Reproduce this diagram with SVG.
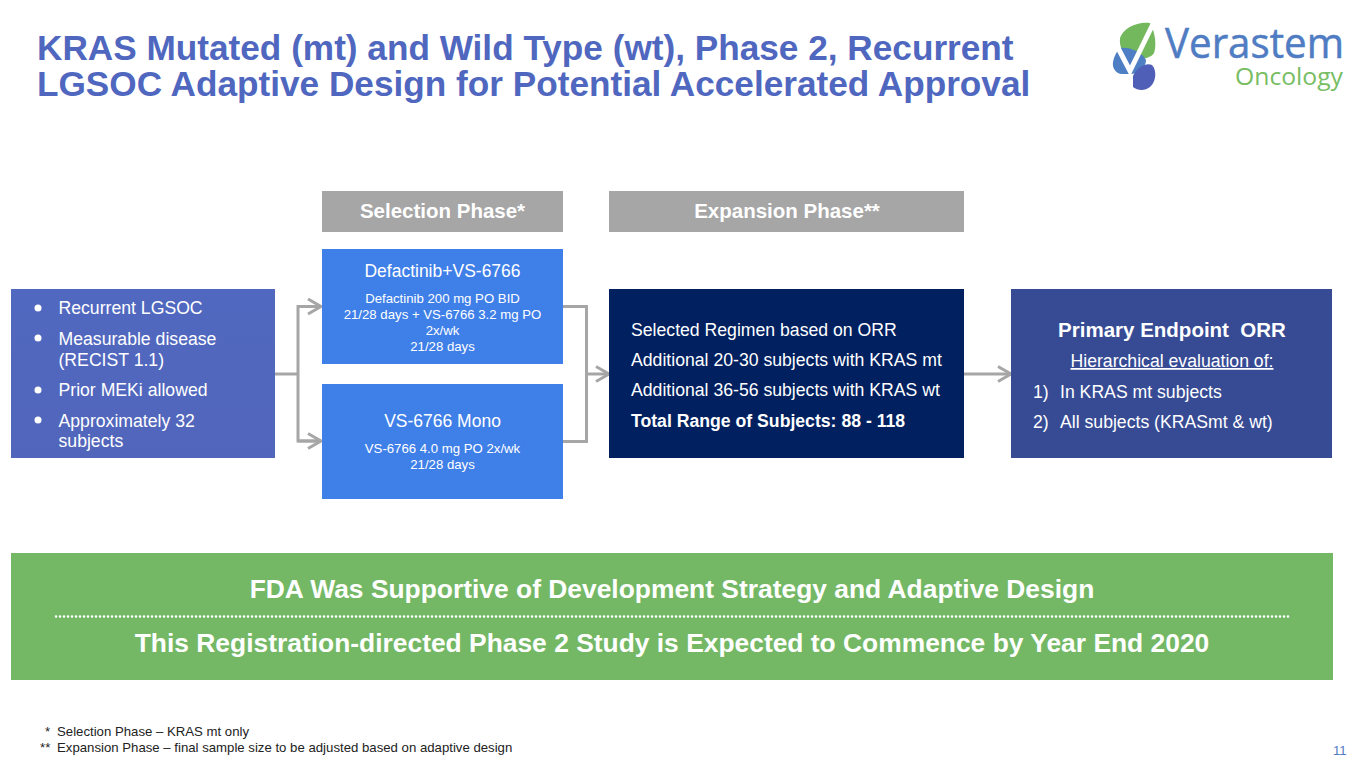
<svg xmlns="http://www.w3.org/2000/svg" width="1366" height="770" viewBox="0 0 1366 770">
<style>
text{font-family:"Liberation Sans",Arial,sans-serif;fill:#fff}
.title{font-size:35.2px;font-weight:700;fill:#4f67bf}
.hd{font-size:20.500px;font-weight:700;text-anchor:middle}
.m{text-anchor:middle}
.b18{font-size:17.650px}
.s13{font-size:13.200px}
.s17{font-size:17.500px}
.ban{font-size:26.400px;font-weight:700;text-anchor:middle}
.fn{font-size:13.200px;fill:#222}
.c{fill:none;stroke:#a6a6a6;stroke-width:3}
</style>
<defs>
<linearGradient id="g1" x1="0" x2="0" y1="0" y2="1"><stop offset="0" stop-color="#5168c0"/><stop offset="1" stop-color="#5166bb"/></linearGradient>
<marker id="a" markerUnits="userSpaceOnUse" markerWidth="18" markerHeight="18" refX="15" refY="9" orient="auto"><path d="M2 1.500L15 9L2 16.500" fill="none" stroke="#a6a6a6" stroke-width="3"/></marker>
</defs>
<rect width="1366" height="770" fill="#fff"/>
<g id="title"><text class="title" x="37" y="60">KRAS Mutated (mt) and Wild Type (wt), Phase 2, Recurrent</text><text class="title" x="37" y="96">LGSOC Adaptive Design for Potential Accelerated Approval</text></g>
<g id="logo">
<path d="M1120 38C1123 28 1138 21 1150 23C1155 32 1157 45 1154 53C1150 59 1142 59 1135 58L1128 62C1123 54 1119 46 1120 38Z" fill="#74b85e"/>
<path d="M1120 48C1130 47 1142 52 1146 60C1146 68 1138 74 1130 74L1122 74C1116 74 1112 68 1113 62C1114 56 1117 51 1120 48Z" fill="#4e7fc4"/>
<path d="M1133 76C1136 68 1146 62 1152 65C1157 70 1156 81 1151 86C1146 91 1138 91 1133 87Z" fill="#4f5fb8"/>
<path d="M1153 24L1130 71L1117 46" fill="none" stroke="#fff" stroke-width="5"/>
<text x="1165" y="58" font-size="42" textLength="179" lengthAdjust="spacingAndGlyphs" style="fill:#4f7cc2;stroke:#4f7cc2;stroke-width:.5;font-family:'Open Sans','Liberation Sans',sans-serif">Verastem</text>
<text x="1235" y="85" font-size="24" textLength="108" lengthAdjust="spacingAndGlyphs" style="fill:#78bd63;font-family:'Open Sans','Liberation Sans',sans-serif">Oncology</text>
</g>
<g id="connectors">
<path class="c" d="M275 374H298" />
<path class="c" d="M321 306.500H298V441H321" />
<path class="c" marker-end="url(#a)" d="M298 306.500H321"/>
<path class="c" marker-end="url(#a)" d="M298 441H321"/>
<path class="c" d="M563 306.500H586.500V441.500H563"/>
<path class="c" marker-end="url(#a)" d="M586.500 374H609"/>
<path class="c" marker-end="url(#a)" d="M964 374H1011"/>
</g>
<g id="selection-header"><rect x="322" y="191" width="241" height="41" fill="#a6a6a6"/><text class="hd" x="442.500" y="218">Selection Phase*</text></g>
<g id="expansion-header"><rect x="609" y="191" width="355" height="41" fill="#a6a6a6"/><text class="hd" x="787" y="218">Expansion Phase**</text></g>
<g id="population"><rect x="11" y="289" width="264" height="169" fill="url(#g1)"/>
<g class="b18"><circle cx="38" cy="308" r="3.500" fill="#fff"/><text x="58.500" y="314">Recurrent LGSOC</text><circle cx="38" cy="338" r="3.500" fill="#fff"/><text x="58.500" y="345">Measurable disease</text><text x="58.500" y="366">(RECIST 1.1)</text><circle cx="38" cy="390" r="3.500" fill="#fff"/><text x="58.500" y="396">Prior MEKi allowed</text><circle cx="38" cy="420" r="3.500" fill="#fff"/><text x="58.500" y="427">Approximately 32</text><text x="58.500" y="447">subjects</text></g></g>
<g id="combo"><rect x="322" y="249" width="241" height="115" fill="#3f7fe8"/><text class="m s17" x="442.500" y="277">Defactinib+VS-6766</text><g class="m s13"><text x="442.500" y="303">Defactinib 200 mg PO BID</text><text x="442.500" y="319">21/28 days + VS-6766 3.2 mg PO</text><text x="442.500" y="335">2x/wk</text><text x="442.500" y="351">21/28 days</text></g></g>
<g id="mono"><rect x="322" y="384" width="241" height="115" fill="#3f7fe8"/><text class="m s17" x="442.500" y="427">VS-6766 Mono</text><g class="m s13"><text x="442.500" y="453">VS-6766 4.0 mg PO 2x/wk</text><text x="442.500" y="469">21/28 days</text></g></g>
<g id="expansion"><rect x="609" y="289" width="355" height="169" fill="#00205f"/><g class="b18"><text x="631" y="336">Selected Regimen based on ORR</text><text x="631" y="366">Additional 20-30 subjects with KRAS mt</text><text x="631" y="396">Additional 36-56 subjects with KRAS wt</text><text x="631" y="426.500" font-weight="700">Total Range of Subjects: 88 - 118</text></g></g>
<g id="endpoint"><rect x="1011" y="289" width="321" height="169" fill="#374b95"/><text class="m" x="1172" y="337" font-size="20.500" font-weight="700" xml:space="preserve">Primary Endpoint  ORR</text><text class="m b18" x="1172" y="367" text-decoration="underline">Hierarchical evaluation of:</text><g class="b18"><text x="1033" y="398">1)</text><text x="1060" y="398">In KRAS mt subjects</text><text x="1033" y="428">2)</text><text x="1060" y="428">All subjects (KRASmt &amp; wt)</text></g></g>
<g id="banner"><rect x="11" y="553" width="1322" height="127" fill="#74b865"/><text class="ban" x="672" y="598">FDA Was Supportive of Development Strategy and Adaptive Design</text><path d="M56 616.500H1292" stroke="#fff" stroke-width="2.500" stroke-linecap="round" stroke-dasharray="0.100 3.900" fill="none"/><text class="ban" x="672" y="652">This Registration-directed Phase 2 Study is Expected to Commence by Year End 2020</text></g>
<g id="footnotes"><text class="fn" x="45" y="736">*</text><text class="fn" x="57" y="736">Selection Phase – KRAS mt only</text><text class="fn" x="40" y="752">**</text><text class="fn" x="57" y="752">Expansion Phase – final sample size to be adjusted based on adaptive design</text></g>
<text x="1333" y="755" font-size="13" style="fill:#4f7cc2">11</text>
</svg>
